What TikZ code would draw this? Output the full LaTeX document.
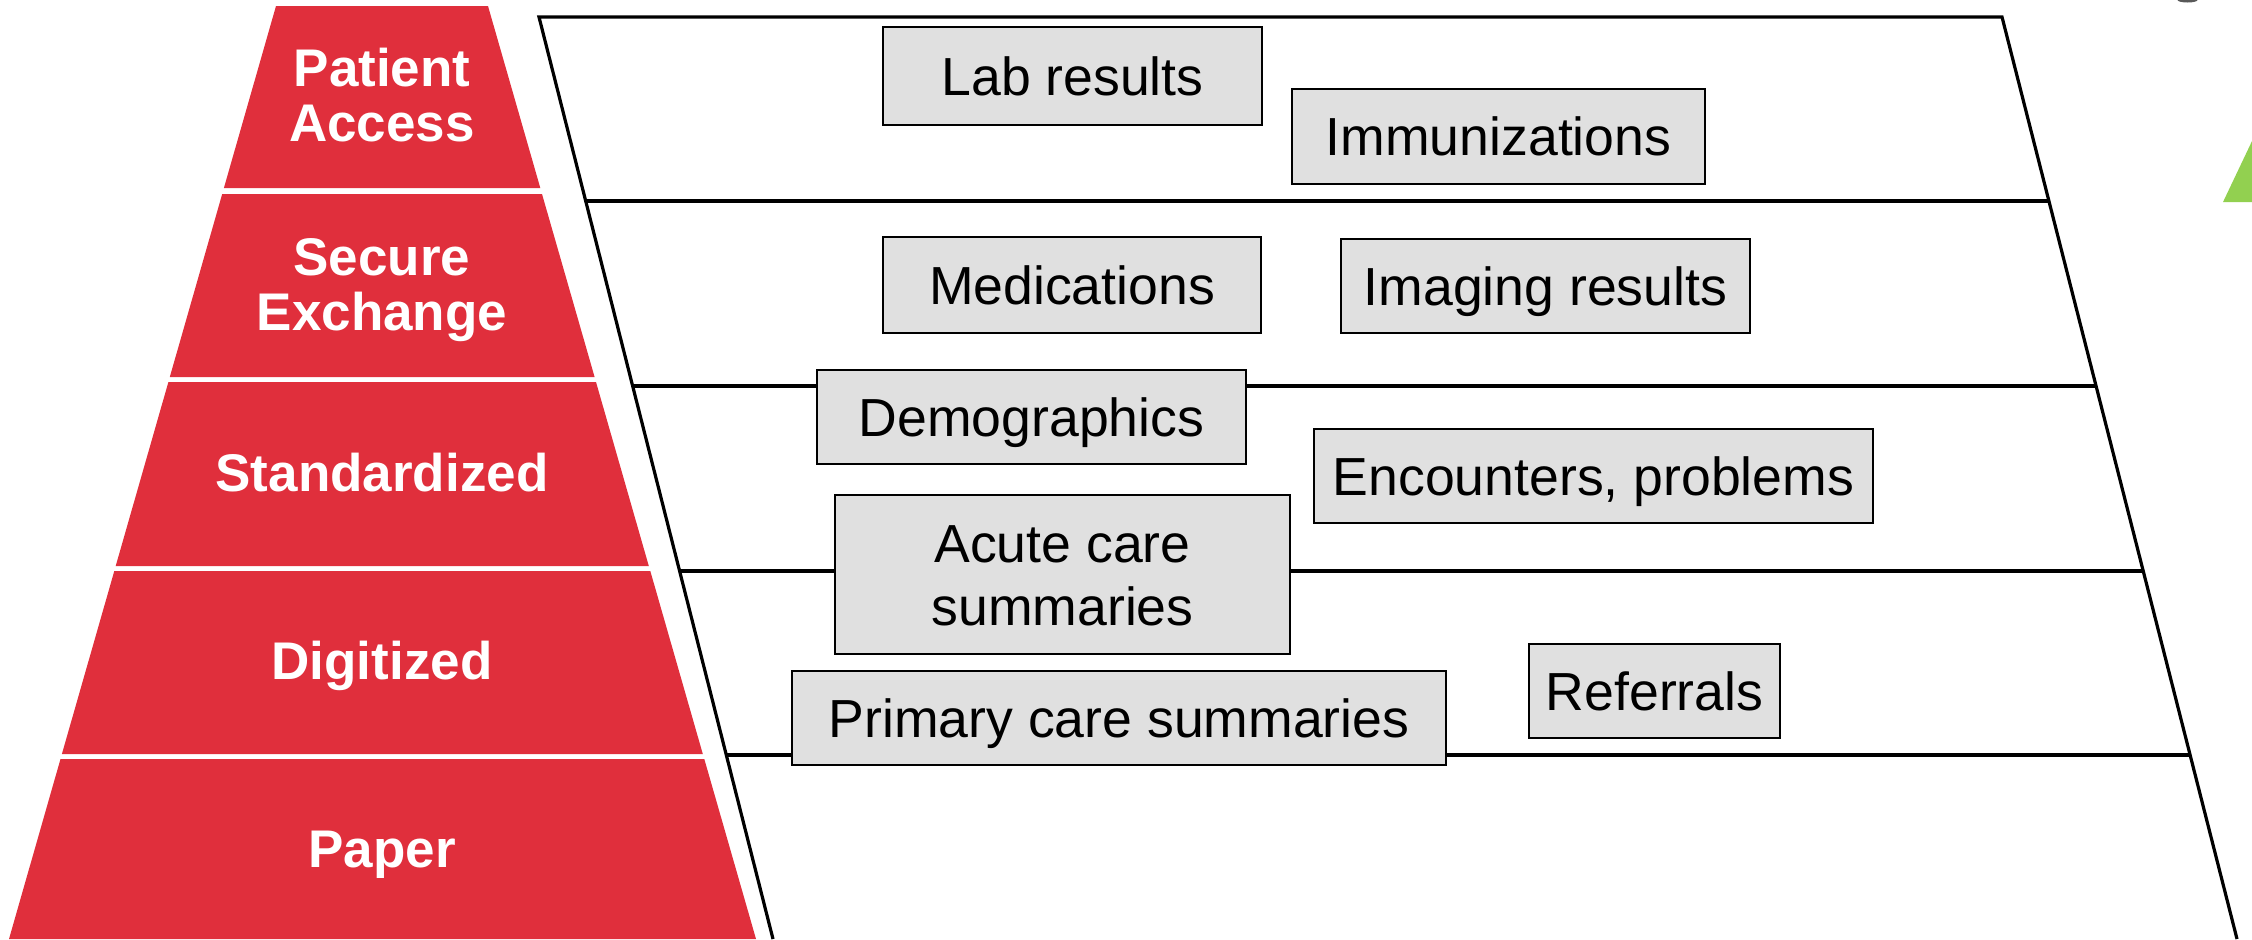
\documentclass[tikz,border=0pt]{standalone}
\usepackage{fontspec}
\setmainfont{Liberation Sans}

\definecolor{levelred}{RGB}{224,47,60}
\definecolor{itemgray}{RGB}{224,224,224}
\definecolor{markgreen}{RGB}{146,208,80}

\tikzset{every picture/.style={line width=0.75pt}}
\tikzset{
	levelband/.style={fill=levelred,draw=none},
	level/.style={text=white,font=\fontsize{26.5}{27.5}\selectfont\bfseries,align=center,inner sep=0pt,text height=19pt,text depth=0pt},
	item/.style={draw=black,line width=1.2pt,fill=itemgray,font=\fontsize{26.8}{31.5}\selectfont,align=center,inner sep=0pt,text height=19pt,text depth=0pt},
	shelf/.style={line width=1.6pt,line join=miter}
}

\begin{document}
\begin{tikzpicture}[x=0.5pt,y=0.5pt,yscale=-1,xscale=1]
	\useasboundingbox (0,0) rectangle (2252,939);

	%Shape: Pyramid bands
	\fill[levelband] (276,6) -- (488,6) -- (540.3,188) -- (223.9,188) -- cycle ;
	\fill[levelband] (222.2,194) -- (542,194) -- (594.6,377) -- (169.8,377) -- cycle ;
	\fill[levelband] (168.4,382) -- (596,382) -- (648.8,566) -- (115.7,566) -- cycle ;
	\fill[levelband] (114.3,571) -- (650.3,571) -- (702.8,754) -- (61.9,754) -- cycle ;
	\fill[levelband] (60.5,759) -- (704.3,759) -- (756,939) -- (9,939) -- cycle ;

	% Text Node
	\node[level,text height=46.5pt] (access) at (382,94.5) {Patient\\Access};
	% Text Node
	\node[level,text height=46.5pt] (exchange) at (382,283.5) {Secure\\Exchange};
	% Text Node
	\node[level] (standard) at (382,472) {Standardized};
	% Text Node
	\node[level] (digital) at (382,660) {Digitized};
	% Text Node
	\node[level] (paper) at (382,848.5) {Paper};

	%Shape: Shelves
	\draw[shelf] (773,939) -- (539,17) -- (2002,17) -- (2237,939) ;
	\draw[shelf] (585.5,201) -- (2048.9,201) ;
	\draw[shelf] (632.2,386) -- (2096.1,386) ;
	\draw[shelf] (679,571) -- (2143.2,571) ;
	\draw[shelf] (725.5,755) -- (2190.1,755) ;

	% Item boxes
	\node[item,minimum width=189.5pt,minimum height=49pt] (lab) at (1072.5,76) {Lab results};
	\node[item,minimum width=206.5pt,minimum height=47.5pt] (immun) at (1498.5,136.5) {Immunizations};
	\node[item,minimum width=189pt,minimum height=48pt] (meds) at (1072,285) {Medications};
	\node[item,minimum width=204.5pt,minimum height=47pt] (imaging) at (1545.5,286) {Imaging results};
	\node[item,minimum width=214.5pt,minimum height=47pt] (demo) at (1031.5,417) {Demographics};
	\node[item,minimum width=279.5pt,minimum height=47pt] (encounter) at (1593.5,476) {Encounters, problems};
	\node[item,minimum width=227.5pt,minimum height=79.5pt,text height=50.5pt] (acute) at (1062.5,574.5) {Acute care\\summaries};
	\node[item,minimum width=327pt,minimum height=47pt] (primary) at (1119,718) {Primary care summaries};
	\node[item,minimum width=125.5pt,minimum height=47pt] (referral) at (1654.5,691) {Referrals};

	%Shape: Edge marks
	\fill[markgreen] (2223,202) -- (2262,202) -- (2262,120) -- cycle ;
	\fill[gray!70!black] (2187.5,0) ellipse [x radius=10, y radius=2.5] ;

\end{tikzpicture}
\end{document}
